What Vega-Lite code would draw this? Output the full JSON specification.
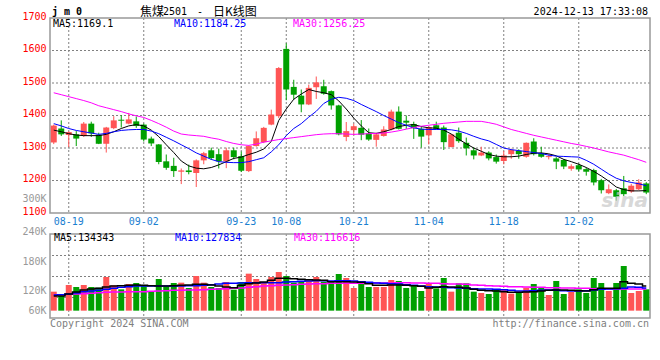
{
"$schema":"https://vega.github.io/schema/vega-lite/v6.json",
"width":600,"height":300,"autosize":"none",
"padding":{"left":50,"top":18,"right":10,"bottom":42},
"background":"white",
"config":{"view":{"stroke":null},"scale":{"bandPaddingInner":0.2,"bandPaddingOuter":0.1},
"axis":{"labelFont":"DejaVu Sans Mono","labelFontSize":10,"ticks":false,"domain":false,"title":null,"labelOverlap":false,"labelBound":false,"labelFlush":false},
"text":{"font":"DejaVu Sans Mono","fontSize":10}},
"datasets":{
"gl":[{"d":"08-19"},{"d":"09-02"},{"d":"09-23"},{"d":"10-08"},{"d":"10-21"},{"d":"11-04"},{"d":"11-18"},{"d":"12-02"}],
"hp":[{"p":1200},{"p":1300},{"p":1400},{"p":1500},{"p":1600}],
"hv":[{"p":101000},{"p":164000},{"p":227000}],
"k":[
{"d":"08-15","o":1317,"h":1372,"l":1312,"c":1369,"m5":1355,"m10":1375,"m30":1470,"v":117000,"v5":104000,"v10":107000,"v30":107000},
{"d":"08-16","o":1360,"h":1385,"l":1337,"c":1342,"m5":1350,"m10":1368,"m30":1464,"v":104000,"v5":104000,"v10":108000,"v30":108000},
{"d":"08-19","o":1340,"h":1351,"l":1303,"c":1349,"m5":1344,"m10":1360,"m30":1458,"v":137000,"v5":110000,"v10":110000,"v30":109000},
{"d":"08-20","o":1342,"h":1352,"l":1306,"c":1329,"m5":1340,"m10":1354,"m30":1452,"v":131000,"v5":116000,"v10":113000,"v30":110000},
{"d":"08-21","o":1337,"h":1380,"l":1334,"c":1375,"m5":1338,"m10":1350,"m30":1446,"v":137000,"v5":122000,"v10":117000,"v30":111000},
{"d":"08-22","o":1375,"h":1381,"l":1334,"c":1345,"m5":1338,"m10":1346,"m30":1439,"v":131000,"v5":125000,"v10":119000,"v30":112000},
{"d":"08-23","o":1341,"h":1347,"l":1312,"c":1313,"m5":1338,"m10":1342,"m30":1430,"v":129000,"v5":127000,"v10":121000,"v30":114000},
{"d":"08-26","o":1313,"h":1365,"l":1286,"c":1363,"m5":1342,"m10":1345,"m30":1424,"v":161000,"v5":131000,"v10":124000,"v30":115000},
{"d":"08-27","o":1361,"h":1398,"l":1358,"c":1385,"m5":1350,"m10":1350,"m30":1418,"v":136000,"v5":134000,"v10":127000,"v30":116000},
{"d":"08-28","o":1387,"h":1401,"l":1363,"c":1384,"m5":1360,"m10":1354,"m30":1412,"v":124000,"v5":135000,"v10":130000,"v30":116000},
{"d":"08-29","o":1375,"h":1408,"l":1373,"c":1388,"m5":1368,"m10":1356,"m30":1405,"v":140000,"v5":136000,"v10":132000,"v30":117000},
{"d":"08-30","o":1382,"h":1397,"l":1362,"c":1368,"m5":1372,"m10":1357,"m30":1399,"v":143000,"v5":137000,"v10":134000,"v30":117000},
{"d":"09-02","o":1372,"h":1375,"l":1320,"c":1326,"m5":1368,"m10":1357,"m30":1394,"v":137000,"v5":136000,"v10":134000,"v30":117000},
{"d":"09-03","o":1329,"h":1335,"l":1306,"c":1314,"m5":1355,"m10":1352,"m30":1385,"v":119000,"v5":135000,"v10":134000,"v30":118000},
{"d":"09-04","o":1311,"h":1312,"l":1250,"c":1257,"m5":1335,"m10":1344,"m30":1375,"v":155000,"v5":134000,"v10":134000,"v30":119000},
{"d":"09-05","o":1259,"h":1280,"l":1233,"c":1239,"m5":1310,"m10":1333,"m30":1364,"v":132000,"v5":134000,"v10":134000,"v30":120000},
{"d":"09-06","o":1245,"h":1270,"l":1211,"c":1229,"m5":1286,"m10":1322,"m30":1352,"v":143000,"v5":135000,"v10":134000,"v30":121000},
{"d":"09-09","o":1227,"h":1237,"l":1189,"c":1231,"m5":1260,"m10":1310,"m30":1343,"v":144000,"v5":136000,"v10":134000,"v30":121000},
{"d":"09-10","o":1231,"h":1249,"l":1219,"c":1226,"m5":1245,"m10":1298,"m30":1340,"v":128000,"v5":137000,"v10":135000,"v30":122000},
{"d":"09-11","o":1223,"h":1265,"l":1180,"c":1262,"m5":1238,"m10":1285,"m30":1338,"v":164000,"v5":139000,"v10":135000,"v30":122000},
{"d":"09-12","o":1262,"h":1288,"l":1250,"c":1284,"m5":1236,"m10":1275,"m30":1336,"v":144000,"v5":139000,"v10":136000,"v30":123000},
{"d":"09-13","o":1293,"h":1301,"l":1263,"c":1269,"m5":1240,"m10":1265,"m30":1331,"v":131000,"v5":137000,"v10":138000,"v30":124000},
{"d":"09-18","o":1281,"h":1298,"l":1237,"c":1259,"m5":1248,"m10":1258,"m30":1327,"v":128000,"v5":134000,"v10":140000,"v30":125000},
{"d":"09-19","o":1259,"h":1301,"l":1238,"c":1293,"m5":1258,"m10":1256,"m30":1320,"v":146000,"v5":131000,"v10":142000,"v30":126000},
{"d":"09-20","o":1293,"h":1301,"l":1265,"c":1272,"m5":1268,"m10":1255,"m30":1314,"v":123000,"v5":129000,"v10":142000,"v30":127000},
{"d":"09-23","o":1275,"h":1289,"l":1226,"c":1230,"m5":1272,"m10":1255,"m30":1310,"v":146000,"v5":136000,"v10":143000,"v30":128000},
{"d":"09-24","o":1229,"h":1308,"l":1226,"c":1306,"m5":1280,"m10":1258,"m30":1308,"v":171000,"v5":141000,"v10":144000,"v30":130000},
{"d":"09-25","o":1306,"h":1351,"l":1304,"c":1330,"m5":1287,"m10":1264,"m30":1312,"v":155000,"v5":143000,"v10":144000,"v30":132000},
{"d":"09-26","o":1318,"h":1365,"l":1315,"c":1362,"m5":1297,"m10":1270,"m30":1318,"v":144000,"v5":146000,"v10":144000,"v30":134000},
{"d":"09-27","o":1372,"h":1418,"l":1370,"c":1403,"m5":1320,"m10":1288,"m30":1322,"v":161000,"v5":151000,"v10":144000,"v30":135000},
{"d":"09-30","o":1398,"h":1549,"l":1392,"c":1546,"m5":1385,"m10":1310,"m30":1326,"v":176000,"v5":157000,"v10":144000,"v30":136000},
{"d":"10-08","o":1605,"h":1622,"l":1447,"c":1480,"m5":1420,"m10":1338,"m30":1329,"v":164000,"v5":157000,"v10":146000,"v30":137000},
{"d":"10-09","o":1488,"h":1510,"l":1449,"c":1464,"m5":1450,"m10":1360,"m30":1332,"v":144000,"v5":156000,"v10":147000,"v30":138000},
{"d":"10-10","o":1461,"h":1480,"l":1410,"c":1434,"m5":1466,"m10":1375,"m30":1335,"v":149000,"v5":154000,"v10":148000,"v30":139000},
{"d":"10-11","o":1434,"h":1495,"l":1432,"c":1485,"m5":1480,"m10":1395,"m30":1338,"v":149000,"v5":153000,"v10":149000,"v30":140000},
{"d":"10-14","o":1487,"h":1520,"l":1451,"c":1502,"m5":1474,"m10":1413,"m30":1341,"v":161000,"v5":152000,"v10":150000,"v30":141000},
{"d":"10-15","o":1490,"h":1510,"l":1464,"c":1467,"m5":1470,"m10":1437,"m30":1343,"v":147000,"v5":151000,"v10":150000,"v30":141000},
{"d":"10-16","o":1475,"h":1477,"l":1418,"c":1431,"m5":1464,"m10":1450,"m30":1344,"v":147000,"v5":147000,"v10":149000,"v30":142000},
{"d":"10-17","o":1431,"h":1433,"l":1339,"c":1342,"m5":1445,"m10":1456,"m30":1344,"v":170000,"v5":147000,"v10":150000,"v30":142000},
{"d":"10-18","o":1334,"h":1380,"l":1321,"c":1352,"m5":1420,"m10":1453,"m30":1343,"v":158000,"v5":147000,"v10":150000,"v30":142000},
{"d":"10-21","o":1355,"h":1375,"l":1339,"c":1367,"m5":1392,"m10":1446,"m30":1342,"v":128000,"v5":146000,"v10":149000,"v30":142000},
{"d":"10-22","o":1362,"h":1386,"l":1324,"c":1341,"m5":1368,"m10":1434,"m30":1343,"v":142000,"v5":145000,"v10":147000,"v30":142000},
{"d":"10-23","o":1345,"h":1360,"l":1322,"c":1326,"m5":1347,"m10":1423,"m30":1344,"v":131000,"v5":141000,"v10":145000,"v30":142000},
{"d":"10-24","o":1325,"h":1347,"l":1304,"c":1342,"m5":1345,"m10":1412,"m30":1345,"v":131000,"v5":136000,"v10":143000,"v30":143000},
{"d":"10-25","o":1337,"h":1367,"l":1335,"c":1357,"m5":1350,"m10":1400,"m30":1346,"v":131000,"v5":136000,"v10":142000,"v30":143000},
{"d":"10-28","o":1357,"h":1418,"l":1354,"c":1412,"m5":1357,"m10":1389,"m30":1349,"v":152000,"v5":137000,"v10":141000,"v30":143000},
{"d":"10-29","o":1412,"h":1428,"l":1357,"c":1359,"m5":1366,"m10":1378,"m30":1353,"v":149000,"v5":137000,"v10":140000,"v30":144000},
{"d":"10-30","o":1384,"h":1400,"l":1359,"c":1378,"m5":1370,"m10":1370,"m30":1358,"v":128000,"v5":136000,"v10":138000,"v30":144000},
{"d":"10-31","o":1374,"h":1381,"l":1328,"c":1361,"m5":1372,"m10":1362,"m30":1363,"v":136000,"v5":135000,"v10":136000,"v30":143000},
{"d":"11-01","o":1359,"h":1367,"l":1301,"c":1335,"m5":1366,"m10":1358,"m30":1367,"v":119000,"v5":133000,"v10":134000,"v30":143000},
{"d":"11-04","o":1339,"h":1367,"l":1311,"c":1364,"m5":1362,"m10":1357,"m30":1370,"v":142000,"v5":128000,"v10":132000,"v30":142000},
{"d":"11-05","o":1370,"h":1381,"l":1357,"c":1359,"m5":1361,"m10":1357,"m30":1373,"v":127000,"v5":130000,"v10":131000,"v30":142000},
{"d":"11-06","o":1363,"h":1369,"l":1294,"c":1318,"m5":1355,"m10":1357,"m30":1376,"v":158000,"v5":132000,"v10":130000,"v30":141000},
{"d":"11-07","o":1303,"h":1343,"l":1302,"c":1342,"m5":1343,"m10":1356,"m30":1378,"v":117000,"v5":131000,"v10":129000,"v30":140000},
{"d":"11-08","o":1347,"h":1363,"l":1316,"c":1321,"m5":1327,"m10":1352,"m30":1380,"v":142000,"v5":130000,"v10":128000,"v30":140000},
{"d":"11-11","o":1316,"h":1332,"l":1277,"c":1299,"m5":1313,"m10":1345,"m30":1382,"v":142000,"v5":128000,"v10":127000,"v30":139000},
{"d":"11-12","o":1293,"h":1302,"l":1265,"c":1277,"m5":1300,"m10":1336,"m30":1382,"v":117000,"v5":124000,"v10":126000,"v30":137000},
{"d":"11-13","o":1277,"h":1304,"l":1275,"c":1286,"m5":1290,"m10":1328,"m30":1382,"v":113000,"v5":121000,"v10":125000,"v30":136000},
{"d":"11-14","o":1286,"h":1290,"l":1262,"c":1268,"m5":1280,"m10":1322,"m30":1378,"v":110000,"v5":120000,"v10":125000,"v30":135000},
{"d":"11-15","o":1272,"h":1280,"l":1252,"c":1258,"m5":1275,"m10":1311,"m30":1373,"v":122000,"v5":119000,"v10":124000,"v30":134000},
{"d":"11-18","o":1260,"h":1291,"l":1250,"c":1277,"m5":1273,"m10":1300,"m30":1365,"v":122000,"v5":117000,"v10":123000,"v30":133000},
{"d":"11-19","o":1281,"h":1298,"l":1267,"c":1294,"m5":1273,"m10":1295,"m30":1357,"v":111000,"v5":115000,"v10":121000,"v30":132000},
{"d":"11-20","o":1291,"h":1296,"l":1267,"c":1281,"m5":1275,"m10":1292,"m30":1351,"v":116000,"v5":115000,"v10":119000,"v30":132000},
{"d":"11-21","o":1273,"h":1317,"l":1270,"c":1316,"m5":1280,"m10":1289,"m30":1345,"v":129000,"v5":116000,"v10":119000,"v30":131000},
{"d":"11-22","o":1320,"h":1330,"l":1277,"c":1281,"m5":1284,"m10":1286,"m30":1339,"v":140000,"v5":117000,"v10":120000,"v30":130000},
{"d":"11-25","o":1284,"h":1304,"l":1270,"c":1273,"m5":1285,"m10":1283,"m30":1334,"v":129000,"v5":119000,"v10":121000,"v30":130000},
{"d":"11-26","o":1272,"h":1281,"l":1265,"c":1275,"m5":1282,"m10":1278,"m30":1329,"v":107000,"v5":121000,"v10":122000,"v30":129000},
{"d":"11-27","o":1268,"h":1272,"l":1235,"c":1258,"m5":1276,"m10":1275,"m30":1324,"v":149000,"v5":122000,"v10":121000,"v30":129000},
{"d":"11-28","o":1263,"h":1266,"l":1235,"c":1243,"m5":1265,"m10":1274,"m30":1319,"v":110000,"v5":122000,"v10":120000,"v30":128000},
{"d":"11-29","o":1236,"h":1250,"l":1230,"c":1244,"m5":1258,"m10":1273,"m30":1314,"v":116000,"v5":121000,"v10":119000,"v30":128000},
{"d":"12-02","o":1247,"h":1252,"l":1228,"c":1234,"m5":1250,"m10":1272,"m30":1310,"v":124000,"v5":120000,"v10":119000,"v30":127000},
{"d":"12-03","o":1235,"h":1240,"l":1215,"c":1227,"m5":1240,"m10":1262,"m30":1305,"v":113000,"v5":119000,"v10":120000,"v30":127000},
{"d":"12-04","o":1232,"h":1236,"l":1185,"c":1194,"m5":1228,"m10":1250,"m30":1300,"v":158000,"v5":123000,"v10":122000,"v30":126000},
{"d":"12-05","o":1201,"h":1205,"l":1160,"c":1170,"m5":1214,"m10":1235,"m30":1294,"v":143000,"v5":127000,"v10":124000,"v30":126000},
{"d":"12-06","o":1161,"h":1188,"l":1158,"c":1173,"m5":1198,"m10":1220,"m30":1288,"v":119000,"v5":127000,"v10":125000,"v30":125000},
{"d":"12-09","o":1170,"h":1174,"l":1138,"c":1150,"m5":1180,"m10":1207,"m30":1283,"v":143000,"v5":127000,"v10":126000,"v30":125000},
{"d":"12-10","o":1176,"h":1214,"l":1152,"c":1158,"m5":1172,"m10":1199,"m30":1278,"v":194000,"v5":147000,"v10":127000,"v30":125000},
{"d":"12-11","o":1166,"h":1190,"l":1162,"c":1184,"m5":1168,"m10":1194,"m30":1271,"v":113000,"v5":142000,"v10":131000,"v30":125000},
{"d":"12-12","o":1173,"h":1204,"l":1170,"c":1194,"m5":1168,"m10":1190,"m30":1264,"v":119000,"v5":140000,"v10":130000,"v30":125000},
{"d":"12-13","o":1191,"h":1195,"l":1158,"c":1163,"m5":1169,"m10":1184,"m30":1256,"v":124000,"v5":134000,"v10":128000,"v30":125000}
]},
"data":{"name":"k"},
"layer":[
{"layer":[
 {"data":{"name":"gl"},"mark":{"type":"rule","stroke":"#808080","strokeDash":[2,2],"strokeWidth":1},
  "encoding":{"x":{"field":"d","type":"ordinal","title":null,"axis":{"orient":"bottom","offset":-105,"values":["08-19","09-02","09-23","10-08","10-21","11-04","11-18","12-02"],"labelColor":"#1a80d0","labelPadding":3,"labelBaseline":"top","labelAngle":0,"grid":false}},
   "y":{"datum":1700,"type":"quantitative","scale":{"domain":[1100,1700],"range":[195,0],"nice":false,"zero":false},
     "axis":{"orient":"left","values":[1100,1138,1200,1300,1400,1500,1600,1700],"format":"d","labelExpr":"datum.value==1138?'300K':datum.label","labelColor":{"condition":{"test":"datum.value==1138","value":"#999999"},"value":"#ff0000"},"grid":false,"labelPadding":4,"labelOffset":-2,"labelBaseline":"middle"}},
   "y2":{"datum":1100}}},
 {"data":{"name":"hp"},"mark":{"type":"rule","stroke":"#808080","strokeDash":[2,2],"strokeWidth":1},
  "encoding":{"y":{"field":"p","type":"quantitative","scale":{"domain":[1100,1700],"range":[195,0],"nice":false,"zero":false},
     "axis":{"orient":"left","values":[1100,1138,1200,1300,1400,1500,1600,1700],"format":"d","labelExpr":"datum.value==1138?'300K':datum.label","labelColor":{"condition":{"test":"datum.value==1138","value":"#999999"},"value":"#ff0000"},"grid":false,"labelPadding":4,"labelOffset":-2,"labelBaseline":"middle"}}}},
 {"data":{"values":[{}]},"mark":{"type":"rect","fillOpacity":0,"stroke":"#999999","strokeWidth":1.5},
  "encoding":{"x":{"value":0},"x2":{"value":"width"},"y":{"datum":1700,"type":"quantitative","scale":{"domain":[1100,1700],"range":[195,0],"nice":false,"zero":false},
     "axis":{"orient":"left","values":[1100,1138,1200,1300,1400,1500,1600,1700],"format":"d","labelExpr":"datum.value==1138?'300K':datum.label","labelColor":{"condition":{"test":"datum.value==1138","value":"#999999"},"value":"#ff0000"},"grid":false,"labelPadding":4,"labelOffset":-2,"labelBaseline":"middle"}},"y2":{"datum":1100}}},
 {"mark":{"type":"rule","strokeWidth":1},
  "encoding":{"x":{"field":"d","type":"ordinal","title":null,"axis":{"orient":"bottom","offset":-105,"values":["08-19","09-02","09-23","10-08","10-21","11-04","11-18","12-02"],"labelColor":"#1a80d0","labelPadding":3,"labelBaseline":"top","labelAngle":0,"grid":false}},
   "y":{"field":"l","type":"quantitative","scale":{"domain":[1100,1700],"range":[195,0],"nice":false,"zero":false},
     "axis":{"orient":"left","values":[1100,1138,1200,1300,1400,1500,1600,1700],"format":"d","labelExpr":"datum.value==1138?'300K':datum.label","labelColor":{"condition":{"test":"datum.value==1138","value":"#999999"},"value":"#ff0000"},"grid":false,"labelPadding":4,"labelOffset":-2,"labelBaseline":"middle"}},"y2":{"field":"h"},
   "color":{"condition":{"test":"datum.c>=datum.o","value":"#ff5555"},"value":"#00a000"}}},
 {"mark":{"type":"bar"},
  "encoding":{"x":{"field":"d","type":"ordinal","title":null,"axis":{"orient":"bottom","offset":-105,"values":["08-19","09-02","09-23","10-08","10-21","11-04","11-18","12-02"],"labelColor":"#1a80d0","labelPadding":3,"labelBaseline":"top","labelAngle":0,"grid":false}},
   "y":{"field":"o","type":"quantitative","scale":{"domain":[1100,1700],"range":[195,0],"nice":false,"zero":false},
     "axis":{"orient":"left","values":[1100,1138,1200,1300,1400,1500,1600,1700],"format":"d","labelExpr":"datum.value==1138?'300K':datum.label","labelColor":{"condition":{"test":"datum.value==1138","value":"#999999"},"value":"#ff0000"},"grid":false,"labelPadding":4,"labelOffset":-2,"labelBaseline":"middle"}},
   "y2":{"field":"c"},
   "color":{"condition":{"test":"datum.c>=datum.o","value":"#ff5555"},"value":"#00a000"}}},
 {"mark":{"type":"line","color":"#000000","strokeWidth":1},
  "encoding":{"x":{"field":"d","type":"ordinal","title":null,"axis":{"orient":"bottom","offset":-105,"values":["08-19","09-02","09-23","10-08","10-21","11-04","11-18","12-02"],"labelColor":"#1a80d0","labelPadding":3,"labelBaseline":"top","labelAngle":0,"grid":false}},
   "y":{"field":"m5","type":"quantitative","scale":{"domain":[1100,1700],"range":[195,0],"nice":false,"zero":false},
     "axis":{"orient":"left","values":[1100,1138,1200,1300,1400,1500,1600,1700],"format":"d","labelExpr":"datum.value==1138?'300K':datum.label","labelColor":{"condition":{"test":"datum.value==1138","value":"#999999"},"value":"#ff0000"},"grid":false,"labelPadding":4,"labelOffset":-2,"labelBaseline":"middle"}}}},
 {"mark":{"type":"line","color":"#0000ff","strokeWidth":1},
  "encoding":{"x":{"field":"d","type":"ordinal","title":null,"axis":{"orient":"bottom","offset":-105,"values":["08-19","09-02","09-23","10-08","10-21","11-04","11-18","12-02"],"labelColor":"#1a80d0","labelPadding":3,"labelBaseline":"top","labelAngle":0,"grid":false}},
   "y":{"field":"m10","type":"quantitative","scale":{"domain":[1100,1700],"range":[195,0],"nice":false,"zero":false},
     "axis":{"orient":"left","values":[1100,1138,1200,1300,1400,1500,1600,1700],"format":"d","labelExpr":"datum.value==1138?'300K':datum.label","labelColor":{"condition":{"test":"datum.value==1138","value":"#999999"},"value":"#ff0000"},"grid":false,"labelPadding":4,"labelOffset":-2,"labelBaseline":"middle"}}}},
 {"mark":{"type":"line","color":"#ff00ff","strokeWidth":1},
  "encoding":{"x":{"field":"d","type":"ordinal","title":null,"axis":{"orient":"bottom","offset":-105,"values":["08-19","09-02","09-23","10-08","10-21","11-04","11-18","12-02"],"labelColor":"#1a80d0","labelPadding":3,"labelBaseline":"top","labelAngle":0,"grid":false}},
   "y":{"field":"m30","type":"quantitative","scale":{"domain":[1100,1700],"range":[195,0],"nice":false,"zero":false},
     "axis":{"orient":"left","values":[1100,1138,1200,1300,1400,1500,1600,1700],"format":"d","labelExpr":"datum.value==1138?'300K':datum.label","labelColor":{"condition":{"test":"datum.value==1138","value":"#999999"},"value":"#ff0000"},"grid":false,"labelPadding":4,"labelOffset":-2,"labelBaseline":"middle"}}}}
]},
{"layer":[
 {"data":{"name":"gl"},"mark":{"type":"rule","stroke":"#808080","strokeDash":[2,2],"strokeWidth":1},
  "encoding":{"x":{"field":"d","type":"ordinal","title":null,"axis":{"orient":"bottom","offset":-105,"values":["08-19","09-02","09-23","10-08","10-21","11-04","11-18","12-02"],"labelColor":"#1a80d0","labelPadding":3,"labelBaseline":"top","labelAngle":0,"grid":false}},
   "y":{"datum":290000,"type":"quantitative","scale":{"domain":[38000,290000],"range":[300,216],"nice":false,"zero":false},
     "axis":{"orient":"left","values":[61000,121000,207000,290000],"labelExpr":"datum.value==290000?'240K':datum.value==207000?'180K':datum.value==121000?'120K':'60K'","labelColor":"#999999","labelBaseline":{"condition":{"test":"datum.value==290000","value":"alphabetic"},"value":"middle"},"grid":false,"labelPadding":4}},
   "y2":{"datum":38000}}},
 {"data":{"name":"hv"},"mark":{"type":"rule","stroke":"#808080","strokeDash":[2,2],"strokeWidth":1,"yOffset":0.5},
  "encoding":{"y":{"field":"p","type":"quantitative","scale":{"domain":[38000,290000],"range":[300,216],"nice":false,"zero":false},
     "axis":{"orient":"left","values":[61000,121000,207000,290000],"labelExpr":"datum.value==290000?'240K':datum.value==207000?'180K':datum.value==121000?'120K':'60K'","labelColor":"#999999","labelBaseline":{"condition":{"test":"datum.value==290000","value":"alphabetic"},"value":"middle"},"grid":false,"labelPadding":4}}}},
 {"data":{"values":[{}]},"mark":{"type":"rect","fillOpacity":0,"stroke":"#999999","strokeWidth":1.5},
  "encoding":{"x":{"value":0},"x2":{"value":"width"},"y":{"datum":290000,"type":"quantitative","scale":{"domain":[38000,290000],"range":[300,216],"nice":false,"zero":false},
     "axis":{"orient":"left","values":[61000,121000,207000,290000],"labelExpr":"datum.value==290000?'240K':datum.value==207000?'180K':datum.value==121000?'120K':'60K'","labelColor":"#999999","labelBaseline":{"condition":{"test":"datum.value==290000","value":"alphabetic"},"value":"middle"},"grid":false,"labelPadding":4}},"y2":{"datum":38000}}},
 {"mark":{"type":"bar"},
  "encoding":{"x":{"field":"d","type":"ordinal","title":null,"axis":{"orient":"bottom","offset":-105,"values":["08-19","09-02","09-23","10-08","10-21","11-04","11-18","12-02"],"labelColor":"#1a80d0","labelPadding":3,"labelBaseline":"top","labelAngle":0,"grid":false}},
   "y":{"field":"v","type":"quantitative","scale":{"domain":[38000,290000],"range":[300,216],"nice":false,"zero":false},
     "axis":{"orient":"left","values":[61000,121000,207000,290000],"labelExpr":"datum.value==290000?'240K':datum.value==207000?'180K':datum.value==121000?'120K':'60K'","labelColor":"#999999","labelBaseline":{"condition":{"test":"datum.value==290000","value":"alphabetic"},"value":"middle"},"grid":false,"labelPadding":4}},
   "y2":{"datum":60000},
   "color":{"condition":{"test":"datum.c>=datum.o","value":"#ff5555"},"value":"#00a000"}}},
 {"mark":{"type":"line","color":"#ff00ff","strokeWidth":1.5,"interpolate":"step"},
  "encoding":{"x":{"field":"d","type":"ordinal","title":null,"axis":{"orient":"bottom","offset":-105,"values":["08-19","09-02","09-23","10-08","10-21","11-04","11-18","12-02"],"labelColor":"#1a80d0","labelPadding":3,"labelBaseline":"top","labelAngle":0,"grid":false}},
   "y":{"field":"v30","type":"quantitative","scale":{"domain":[38000,290000],"range":[300,216],"nice":false,"zero":false},
     "axis":{"orient":"left","values":[61000,121000,207000,290000],"labelExpr":"datum.value==290000?'240K':datum.value==207000?'180K':datum.value==121000?'120K':'60K'","labelColor":"#999999","labelBaseline":{"condition":{"test":"datum.value==290000","value":"alphabetic"},"value":"middle"},"grid":false,"labelPadding":4}}}},
 {"mark":{"type":"line","color":"#0000ff","strokeWidth":1.5,"interpolate":"step"},
  "encoding":{"x":{"field":"d","type":"ordinal","title":null,"axis":{"orient":"bottom","offset":-105,"values":["08-19","09-02","09-23","10-08","10-21","11-04","11-18","12-02"],"labelColor":"#1a80d0","labelPadding":3,"labelBaseline":"top","labelAngle":0,"grid":false}},
   "y":{"field":"v10","type":"quantitative","scale":{"domain":[38000,290000],"range":[300,216],"nice":false,"zero":false},
     "axis":{"orient":"left","values":[61000,121000,207000,290000],"labelExpr":"datum.value==290000?'240K':datum.value==207000?'180K':datum.value==121000?'120K':'60K'","labelColor":"#999999","labelBaseline":{"condition":{"test":"datum.value==290000","value":"alphabetic"},"value":"middle"},"grid":false,"labelPadding":4}}}},
 {"mark":{"type":"line","color":"#000000","strokeWidth":1.5,"interpolate":"step"},
  "encoding":{"x":{"field":"d","type":"ordinal","title":null,"axis":{"orient":"bottom","offset":-105,"values":["08-19","09-02","09-23","10-08","10-21","11-04","11-18","12-02"],"labelColor":"#1a80d0","labelPadding":3,"labelBaseline":"top","labelAngle":0,"grid":false}},
   "y":{"field":"v5","type":"quantitative","scale":{"domain":[38000,290000],"range":[300,216],"nice":false,"zero":false},
     "axis":{"orient":"left","values":[61000,121000,207000,290000],"labelExpr":"datum.value==290000?'240K':datum.value==207000?'180K':datum.value==121000?'120K':'60K'","labelColor":"#999999","labelBaseline":{"condition":{"test":"datum.value==290000","value":"alphabetic"},"value":"middle"},"grid":false,"labelPadding":4}}}}
]},
{"data":{"values":[{}]},"mark":{"type":"text","x":2,"y":-6,"align":"left","baseline":"middle","fontWeight":"bold","fontSize":10,"text":"j m 0","color":"#000000"}},
{"data":{"values":[{}]},"mark":{"type":"text","x":90,"y":-6,"align":"left","baseline":"middle","font":"Noto Sans CJK SC","fontSize":12,"text":"焦煤","color":"#000000"}},
{"data":{"values":[{}]},"mark":{"type":"text","x":113,"y":-6,"align":"left","baseline":"middle","fontSize":10,"text":"2501","color":"#000000"}},
{"data":{"values":[{}]},"mark":{"type":"text","x":150,"y":-6,"align":"center","baseline":"middle","fontSize":10,"text":"-","color":"#000000"}},
{"data":{"values":[{}]},"mark":{"type":"text","x":163,"y":-6,"align":"left","baseline":"middle","font":"Noto Sans CJK SC","fontSize":12,"text":"日K线图","color":"#000000"}},
{"data":{"values":[{}]},"mark":{"type":"text","x":598,"y":-6,"align":"right","baseline":"middle","fontSize":10,"text":"2024-12-13 17:33:08","color":"#000000"}},
{"data":{"values":[{}]},"mark":{"type":"text","x":3,"y":6,"align":"left","baseline":"middle","text":"MA5:1169.1","color":"#000000"}},
{"data":{"values":[{}]},"mark":{"type":"text","x":124,"y":6,"align":"left","baseline":"middle","text":"MA10:1184.25","color":"#0000ff"}},
{"data":{"values":[{}]},"mark":{"type":"text","x":243,"y":6,"align":"left","baseline":"middle","text":"MA30:1256.25","color":"#ff00ff"}},
{"data":{"values":[{}]},"mark":{"type":"text","x":4,"y":220,"align":"left","baseline":"middle","text":"MA5:134343","color":"#000000"}},
{"data":{"values":[{}]},"mark":{"type":"text","x":125,"y":220,"align":"left","baseline":"middle","text":"MA10:127834","color":"#0000ff"}},
{"data":{"values":[{}]},"mark":{"type":"text","x":244,"y":220,"align":"left","baseline":"middle","text":"MA30:116616","color":"#ff00ff"}},
{"data":{"values":[{}]},"mark":{"type":"text","x":0,"y":306,"align":"left","baseline":"middle","text":"Copyright 2024 SINA.COM","color":"#808080"}},
{"data":{"values":[{}]},"mark":{"type":"text","x":599,"y":306,"align":"right","baseline":"middle","text":"http://finance.sina.com.cn","color":"#808080"}},
{"data":{"values":[{}]},"mark":{"type":"text","x":598,"y":183,"align":"right","baseline":"middle","font":"DejaVu Sans","fontSize":20,"fontWeight":"bold","fontStyle":"italic","text":"sina","color":"#c8c8c8","opacity":0.7}}
],
"resolve":{"scale":{"y":"independent"},"axis":{"y":"independent"}}
}
